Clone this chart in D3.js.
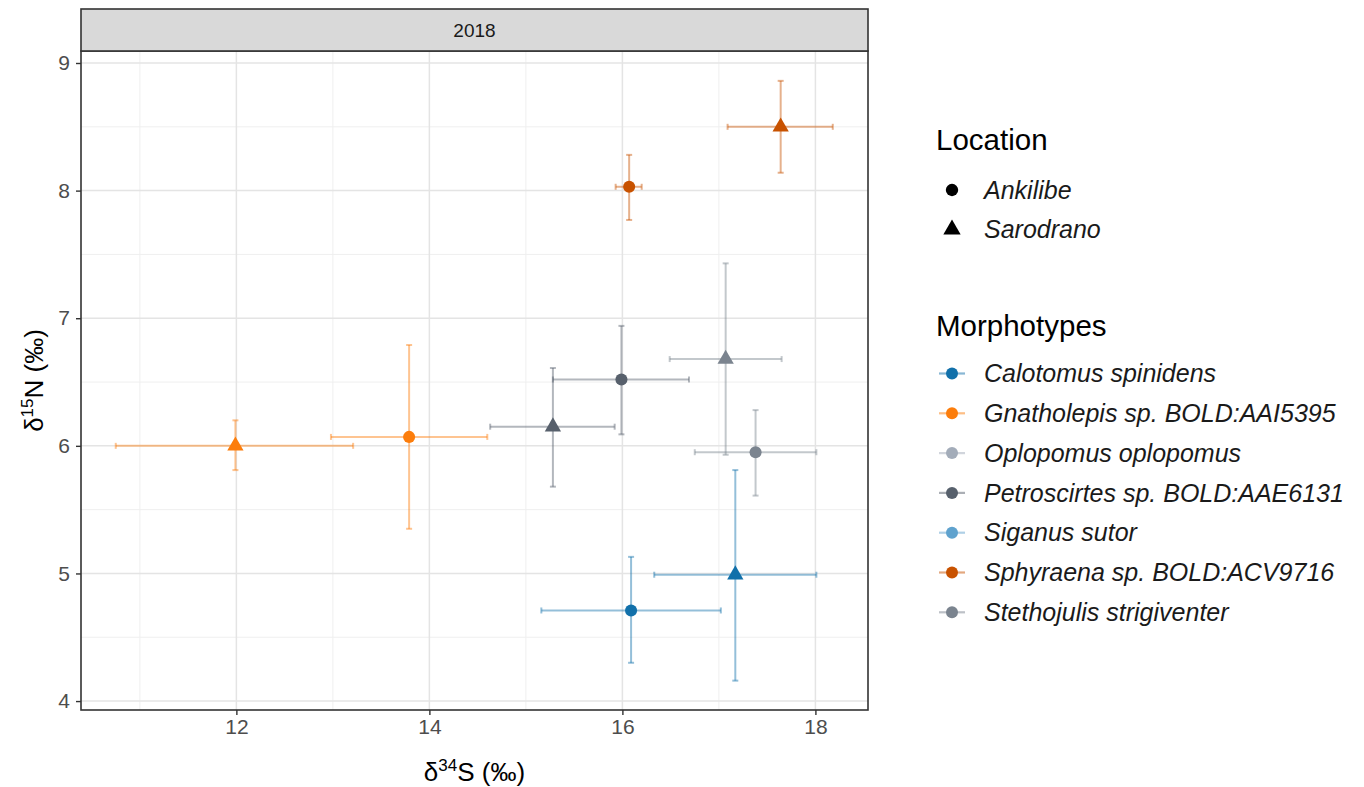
<!DOCTYPE html>
<html>
<head>
<meta charset="utf-8">
<script src="https://cdn.jsdelivr.net/npm/d3@7"></script>
<style>
  html, body { margin: 0; padding: 0; background: #fff; }
  svg { display: block; font-family: "Liberation Sans", Arial, sans-serif; }
</style>
</head>
<body>
<svg id="chart" width="1364" height="787"></svg>
<script>
// Morphotype (colour legend) order and palette
const morphotypes = [
  "Calotomus spinidens",
  "Gnatholepis sp. BOLD:AAI5395",
  "Oplopomus oplopomus",
  "Petroscirtes sp. BOLD:AAE6131",
  "Siganus sutor",
  "Sphyraena sp. BOLD:ACV9716",
  "Stethojulis strigiventer"
];
const morphColors = ["#1170aa", "#fc7d0b", "#a3acb9", "#57606c", "#5fa2ce", "#c85200", "#7b848f"];
const locations = ["Ankilibe", "Sarodrano"];

// One row per group mean (mean ± sd), 2018 sampling
const pointSpecies  = ["Calotomus spinidens", "Calotomus spinidens",
                       "Gnatholepis sp. BOLD:AAI5395", "Gnatholepis sp. BOLD:AAI5395",
                       "Petroscirtes sp. BOLD:AAE6131", "Petroscirtes sp. BOLD:AAE6131",
                       "Stethojulis strigiventer", "Stethojulis strigiventer",
                       "Sphyraena sp. BOLD:ACV9716", "Sphyraena sp. BOLD:ACV9716"];
const pointLocation = ["Ankilibe", "Sarodrano", "Sarodrano", "Ankilibe", "Sarodrano",
                       "Ankilibe", "Sarodrano", "Ankilibe", "Ankilibe", "Sarodrano"];
const d34S     = [16.09, 17.17, 11.99, 13.79, 15.28, 15.99, 17.07, 17.38, 16.07, 17.64];
const d34S_lo  = [15.16, 16.33, 10.75, 12.98, 14.63, 15.28, 16.49, 16.75, 15.93, 17.09];
const d34S_hi  = [17.02, 18.01, 13.21, 14.60, 15.92, 16.69, 17.65, 18.01, 16.20, 18.18];
const d15N     = [4.71, 4.99, 6.00, 6.07, 6.15, 6.52, 6.68, 5.95, 8.03, 8.50];
const d15N_lo  = [4.30, 4.16, 5.81, 5.35, 5.68, 6.09, 5.93, 5.61, 7.77, 8.14];
const d15N_hi  = [5.13, 5.81, 6.20, 6.79, 6.61, 6.94, 7.43, 6.28, 8.28, 8.86];

const xTicks = [12, 14, 16, 18];
const xMinor = [11, 13, 15, 17];
const yTicks = [4, 5, 6, 7, 8, 9];
const yMinor = [4.5, 5.5, 6.5, 7.5, 8.5];
const facetLabel = "2018";

const data = d34S.map((v, i) => ({
  species: pointSpecies[i], location: pointLocation[i],
  x: v, xlo: d34S_lo[i], xhi: d34S_hi[i],
  y: d15N[i], ylo: d15N_lo[i], yhi: d15N_hi[i]
}));

const svg = d3.select("#chart");
const panel = { left: 81, right: 868, top: 51, bottom: 710 };
const strip = { top: 9, bottom: 51 };

const x = d3.scaleLinear().domain([10.39, 18.545]).range([panel.left, panel.right]);
const y = d3.scaleLinear().domain([3.93, 9.094]).range([panel.bottom, panel.top]);
const color = d3.scaleOrdinal().domain(morphotypes).range(morphColors);

const symCircle = d3.symbol().type(d3.symbolCircle).size(115);
const symTri = d3.symbol().type(d3.symbolTriangle).size(115);
const shapeFor = loc => loc === "Ankilibe" ? symCircle() : symTri();

// panel background
svg.append("rect")
  .attr("x", panel.left).attr("y", panel.top)
  .attr("width", panel.right - panel.left).attr("height", panel.bottom - panel.top)
  .attr("fill", "#fff");

// grid lines
const grid = svg.append("g");
grid.selectAll(".xminor").data(xMinor).join("line")
  .attr("x1", d => x(d)).attr("x2", d => x(d))
  .attr("y1", panel.top).attr("y2", panel.bottom)
  .attr("stroke", "#efefef").attr("stroke-width", 1);
grid.selectAll(".yminor").data(yMinor).join("line")
  .attr("y1", d => y(d)).attr("y2", d => y(d))
  .attr("x1", panel.left).attr("x2", panel.right)
  .attr("stroke", "#efefef").attr("stroke-width", 1);
grid.selectAll(".xmajor").data(xTicks).join("line")
  .attr("x1", d => x(d)).attr("x2", d => x(d))
  .attr("y1", panel.top).attr("y2", panel.bottom)
  .attr("stroke", "#e4e4e4").attr("stroke-width", 1.5);
grid.selectAll(".ymajor").data(yTicks).join("line")
  .attr("y1", d => y(d)).attr("y2", d => y(d))
  .attr("x1", panel.left).attr("x2", panel.right)
  .attr("stroke", "#e4e4e4").attr("stroke-width", 1.5);

// error bars (sd in both isotopes)
const capW = 3;
const eb = svg.append("g").attr("stroke-opacity", 0.45).attr("stroke-width", 2);
data.forEach(d => {
  const c = color(d.species);
  const g = eb.append("g").attr("stroke", c);
  g.append("line").attr("x1", x(d.x)).attr("x2", x(d.x)).attr("y1", y(d.ylo)).attr("y2", y(d.yhi));
  g.append("line").attr("x1", x(d.x) - capW).attr("x2", x(d.x) + capW).attr("y1", y(d.ylo)).attr("y2", y(d.ylo));
  g.append("line").attr("x1", x(d.x) - capW).attr("x2", x(d.x) + capW).attr("y1", y(d.yhi)).attr("y2", y(d.yhi));
  g.append("line").attr("y1", y(d.y)).attr("y2", y(d.y)).attr("x1", x(d.xlo)).attr("x2", x(d.xhi));
  g.append("line").attr("y1", y(d.y) - capW).attr("y2", y(d.y) + capW).attr("x1", x(d.xlo)).attr("x2", x(d.xlo));
  g.append("line").attr("y1", y(d.y) - capW).attr("y2", y(d.y) + capW).attr("x1", x(d.xhi)).attr("x2", x(d.xhi));
});

// points
svg.append("g").selectAll("path").data(data).join("path")
  .attr("d", d => shapeFor(d.location))
  .attr("transform", d => `translate(${x(d.x)},${y(d.y)})`)
  .attr("fill", d => color(d.species));

// panel border
svg.append("rect")
  .attr("x", panel.left).attr("y", panel.top)
  .attr("width", panel.right - panel.left).attr("height", panel.bottom - panel.top)
  .attr("fill", "none").attr("stroke", "#333").attr("stroke-width", 1.6);

// facet strip
svg.append("rect")
  .attr("x", panel.left).attr("y", strip.top)
  .attr("width", panel.right - panel.left).attr("height", strip.bottom - strip.top)
  .attr("fill", "#d9d9d9").attr("stroke", "#333").attr("stroke-width", 1.6);
svg.append("text")
  .attr("x", (panel.left + panel.right) / 2).attr("y", (strip.top + strip.bottom) / 2)
  .attr("dy", "0.36em").attr("text-anchor", "middle")
  .attr("font-size", 19).attr("fill", "#1a1a1a").text(facetLabel);

// axes
const xAxis = d3.axisBottom(x).tickValues(xTicks).tickFormat(d3.format("d")).tickSize(5).tickPadding(4);
const gx = svg.append("g").attr("transform", `translate(0,${panel.bottom})`).call(xAxis);
gx.select(".domain").remove();
gx.selectAll(".tick line").attr("stroke", "#333").attr("stroke-width", 1.4);
gx.selectAll(".tick text").attr("font-size", 21).attr("fill", "#4d4d4d")
  .attr("font-family", "Liberation Sans, Arial, sans-serif");

const yAxis = d3.axisLeft(y).tickValues(yTicks).tickFormat(d3.format("d")).tickSize(5).tickPadding(6);
const gy = svg.append("g").attr("transform", `translate(${panel.left},0)`).call(yAxis);
gy.select(".domain").remove();
gy.selectAll(".tick line").attr("stroke", "#333").attr("stroke-width", 1.4);
gy.selectAll(".tick text").attr("font-size", 21).attr("fill", "#4d4d4d")
  .attr("font-family", "Liberation Sans, Arial, sans-serif");

// axis titles
const xt = svg.append("text")
  .attr("x", (panel.left + panel.right) / 2).attr("y", 781)
  .attr("text-anchor", "middle").attr("font-size", 26).attr("fill", "#000");
xt.append("tspan").text("δ");
xt.append("tspan").attr("dy", -10).attr("font-size", 17).text("34");
xt.append("tspan").attr("dy", 10).text("S (‰)");

const yt = svg.append("text")
  .attr("transform", `translate(43,${(panel.top + panel.bottom) / 2}) rotate(-90)`)
  .attr("text-anchor", "middle").attr("font-size", 26).attr("fill", "#000");
yt.append("tspan").text("δ");
yt.append("tspan").attr("dy", -10).attr("font-size", 17).text("15");
yt.append("tspan").attr("dy", 10).text("N (‰)");

// legends
const leg = svg.append("g").attr("font-family", "Liberation Sans, Arial, sans-serif");
leg.append("text").attr("x", 936).attr("y", 150).attr("font-size", 29.5).attr("fill", "#000").text("Location");
locations.forEach((loc, i) => {
  const cy = 190 + i * 39.5;
  leg.append("path")
    .attr("d", loc === "Ankilibe" ? d3.symbol().type(d3.symbolCircle).size(120)() : d3.symbol().type(d3.symbolTriangle).size(130)())
    .attr("transform", `translate(952,${cy})`).attr("fill", "#000");
  leg.append("text").attr("x", 984).attr("y", cy).attr("dy", "0.35em")
    .attr("font-size", 25).attr("font-style", "italic").attr("fill", "#1a1a1a").text(loc);
});

leg.append("text").attr("x", 936).attr("y", 336).attr("font-size", 29.5).attr("fill", "#000").text("Morphotypes");
morphotypes.forEach((m, i) => {
  const cy = 373.5 + i * 39.8;
  leg.append("line").attr("x1", 939).attr("x2", 965).attr("y1", cy).attr("y2", cy)
    .attr("stroke", color(m)).attr("stroke-opacity", 0.5).attr("stroke-width", 2.2);
  leg.append("circle").attr("cx", 952).attr("cy", cy).attr("r", 6).attr("fill", color(m));
  leg.append("text").attr("x", 984).attr("y", cy).attr("dy", "0.35em")
    .attr("font-size", 25).attr("font-style", "italic").attr("fill", "#1a1a1a").text(m);
});
</script>
</body>
</html>
